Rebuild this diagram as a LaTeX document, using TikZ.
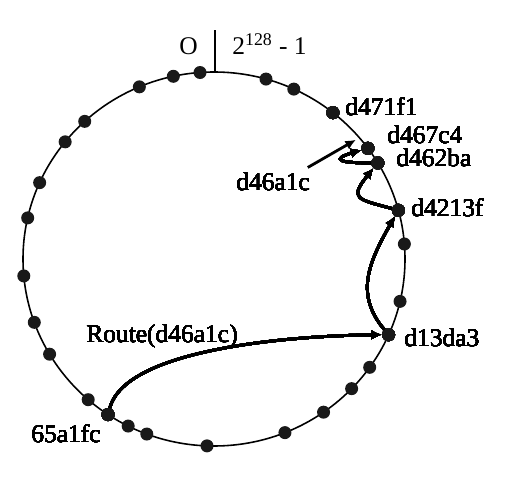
\documentclass[tikz,border=0pt]{standalone}
\usepackage{fontspec}
\setmainfont{Liberation Serif}
\usetikzlibrary{arrows.meta,bending}
\newcommand{\peer}[2]{\node[peer] (#1) at (#2:3.82cm and 3.74cm) {};}
\newcommand{\idlabel}[4]{\node[idtext] (#1) at (#2,#3) {#4};}
\newcommand{\hop}[3]{\draw[hop] (#1) to[#3] (#2);}

\begin{document}
\begin{tikzpicture}[peer/.style={circle,fill=black!90,inner sep=0pt,minimum size=0.26cm},
    idtext/.style={inner sep=0pt,anchor=base west,font=\fontsize{14.5}{17}\selectfont},
    hop/.style={line width=1.6pt,-{Latex[length=6pt,width=5.5pt,flex]}}]
    \useasboundingbox (-4.28,-4.38) rectangle (5.98,5.18);
    \draw[line width=0.9pt] (0,0) ellipse [x radius=3.82, y radius=3.74];
    \coordinate (zero) at (90:3.82cm and 3.74cm);
    \draw[line width=1pt] ([xshift=0.02cm]zero) -- ++(0,0.84);
    \node[idtext,anchor=base] (lzero) at (-0.51,4.08) {O};
    \idlabel{lmax}{0.36}{4.08}{2\textsuperscript{128} - 1}
    % nodes on the ring
    \foreach \a [count=\i] in {94.2,102.3,113,132.6,141.2,155.9,167.3,185.2,199.8,210.6,228.8,243.3,249.4,267.9,291.8,305,316.1,324.6,346.9,4.6,65.3,74.2}
        \peer{p\i}{\a}
    \peer{n65a1fc}{236.3} \peer{nd13da3}{336.1} \peer{nd4213f}{15.1}
    \peer{nd462ba}{30.9}  \peer{nd467c4}{36.3}  \peer{nd471f1}{51.5}
    \idlabel{l65a1fc}{-3.66}{-3.66}{65a1fc} \idlabel{ld13da3}{3.80}{-1.74}{d13da3}
    \idlabel{ld4213f}{3.94}{0.84}{d4213f}   \idlabel{ld462ba}{3.64}{1.84}{d462ba}
    \idlabel{ld467c4}{3.46}{2.30}{d467c4}   \idlabel{ld471f1}{2.62}{2.86}{d471f1}
    \idlabel{ld46a1c}{0.44}{1.36}{d46a1c}   \idlabel{lroute}{-2.56}{-1.66}{Route(d46a1c)}
    % routing hops
    \hop{n65a1fc}{nd13da3}{out=75,in=180,looseness=0.6}
    \hop{nd13da3}{nd4213f}{out=130,in=240,looseness=1.1}
    \hop{nd4213f}{nd462ba}{out=165,in=230,looseness=2.3}
    \hop{nd462ba}{nd467c4}{out=180,in=195,looseness=5.5}
    \coordinate (key) at ([shift={(-0.24,0.17)}]nd467c4);
    \draw[hop] ([shift={(-0.05,0.11)}]ld46a1c.north east) -- (key);
\end{tikzpicture}
\end{document}
